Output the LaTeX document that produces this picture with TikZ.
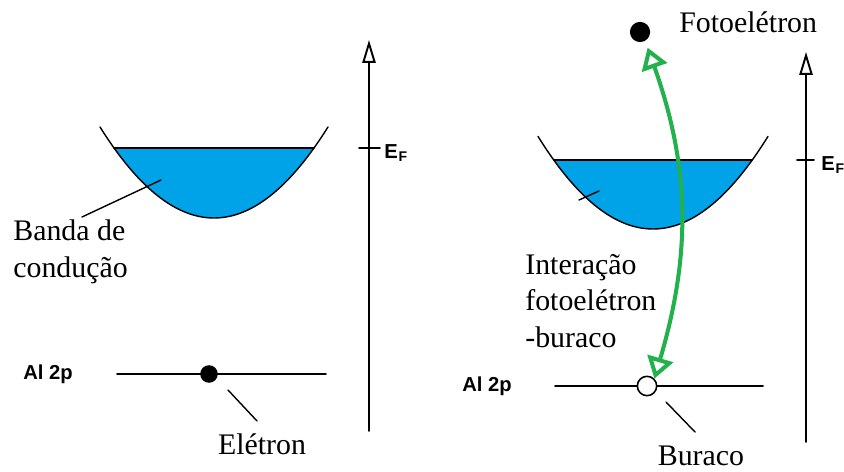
\documentclass[tikz,border=0pt]{standalone}
\usepackage{fontspec}
\setmainfont{Liberation Serif}
\setsansfont{Liberation Sans}
\usetikzlibrary{arrows.meta}
\definecolor{banda}{RGB}{0,162,232}
\definecolor{verde}{RGB}{34,177,76}
\tikzset{
  rotulo/.style={font=\fontsize{17}{20.8}\selectfont, inner sep=0pt},
  nivel/.style={font=\sffamily\bfseries\fontsize{11.5}{13}\selectfont, inner sep=0pt},
  eixo/.style={line width=1.1pt, -{Triangle[open, length=13pt, width=7.5pt]}},
  curva/.style={line width=0.8pt},
  traco/.style={line width=0.8pt},
  eletron/.style={circle, fill=black, inner sep=0pt, minimum size=10pt},
  lacuna/.style={circle, draw=black, fill=white, line width=0.9pt, inner sep=0pt, minimum size=11pt},
  interacao/.style={verde, line width=2.3pt,
    {Triangle[open, length=12pt, width=15pt]}-{Triangle[open, length=12pt, width=15pt]}}
}
\newcommand{\EF}{E\kern0.4pt\raisebox{-2.2pt}{\fontsize{8}{8}\selectfont F}}

\begin{document}
\begin{tikzpicture}[x=0.02cm, y=-0.02cm, line join=round, line cap=round]
\useasboundingbox (0,0) rectangle (844,472);
% painel esquerdo
\fill[banda] plot[domain=114:314, samples=80] (\x,{218-0.007*(\x-214)^2}) -- cycle;
\draw[curva] plot[domain=100:328, samples=80] (\x,{218-0.007*(\x-214)^2});
\draw[line width=1.1pt] (114,148) -- (314,148);
\coordinate (eixoAbase) at (369,431);
\coordinate (eixoAtopo) at (369,40);
\draw[eixo] (eixoAbase) -- (eixoAtopo);
\draw[line width=1.1pt] (359,148) -- (380,148);
\node[nivel, anchor=west] (efA) at (384,153) {\EF};
\node[rotulo, anchor=west, align=left] (bandaTxt) at (13,252) {Banda de\\condução};
\coordinate (bandaP1) at (82,217);
\coordinate (bandaP2) at (161,180);
\draw[traco] (bandaP1) -- (bandaP2);
\node[nivel, anchor=west] (alA) at (23,374) {Al 2p};
\coordinate (nivelAesq) at (117,374);
\coordinate (nivelAdir) at (326,374);
\draw[line width=1.1pt] (nivelAesq) -- (nivelAdir);
\node[eletron] (eletron) at (209,374) {};
\coordinate (eletronP1) at (228,390);
\coordinate (eletronP2) at (257,421);
\draw[traco] (eletronP1) -- (eletronP2);
\node[rotulo] (eletronTxt) at (262,444) {Elétron};
% painel direito
\fill[banda] plot[domain=554:752, samples=80] (\x,{229-0.007*(\x-653)^2}) -- cycle;
\draw[curva] plot[domain=538:768, samples=80] (\x,{229-0.007*(\x-653)^2});
\draw[line width=1.1pt] (554,160) -- (752,160);
\coordinate (bandaQ1) at (579,200);
\coordinate (bandaQ2) at (599,191);
\draw[traco] (bandaQ1) -- (bandaQ2);
\coordinate (eixoBbase) at (806,442);
\coordinate (eixoBtopo) at (806,52);
\draw[eixo] (eixoBbase) -- (eixoBtopo);
\draw[line width=1.1pt] (797,160) -- (814,160);
\node[nivel, anchor=west] (efB) at (821,165) {\EF};
\node[eletron, minimum size=11.5pt] (foto) at (640,32) {};
\node[rotulo, anchor=west] (fotoTxt) at (679,22) {Fotoelétron};
\node[nivel, anchor=west] (alB) at (462,386) {Al 2p};
\coordinate (nivelBesq) at (555,386);
\coordinate (nivelBdir) at (763,386);
\draw[line width=1.1pt] (nivelBesq) -- (nivelBdir);
\node[lacuna] (buraco) at (647,386) {};
\draw[interacao, shorten <=4pt] (foto.-60) to[bend left=18] (buraco.45);
\coordinate (buracoP1) at (666,402);
\coordinate (buracoP2) at (695,432);
\draw[traco] (buracoP1) -- (buracoP2);
\node[rotulo] (buracoTxt) at (701,456) {Buraco};
\node[rotulo, anchor=west, align=left] (interTxt) at (525,301) {Interação\\fotoelétron\\-buraco};
\end{tikzpicture}
\end{document}
